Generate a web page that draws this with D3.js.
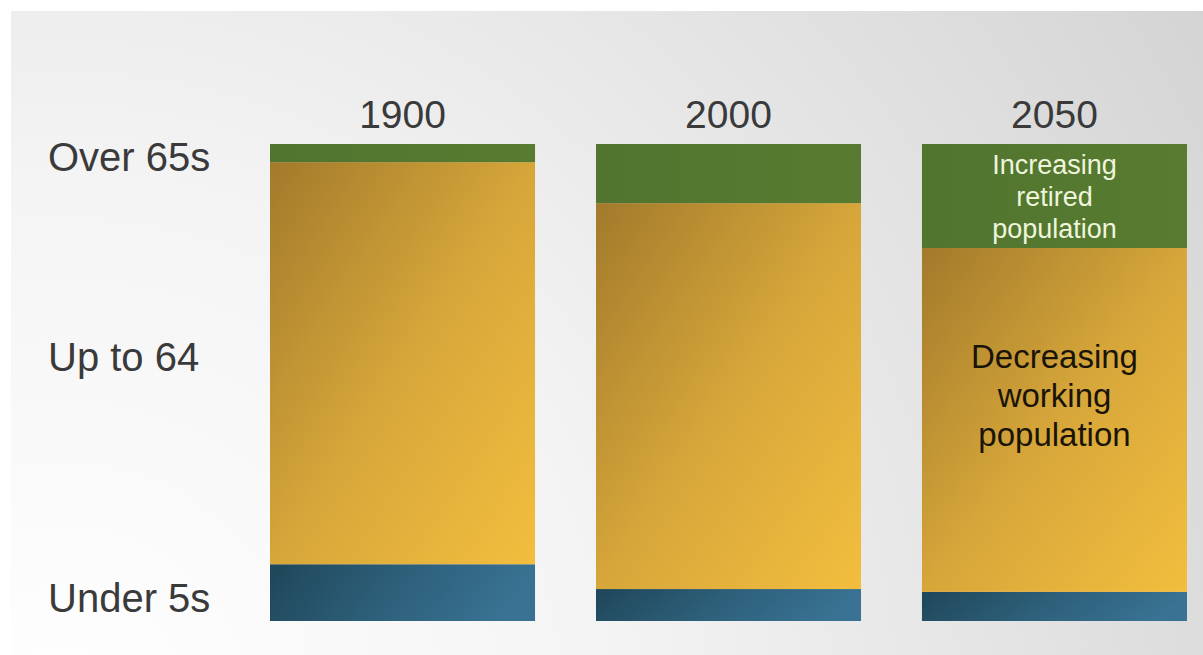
<!DOCTYPE html>
<html>
<head>
<meta charset="utf-8">
<script src="https://cdn.jsdelivr.net/npm/d3@7"></script>
<style>
  body { margin: 0; background: #fff; }
  svg { display: block; font-family: "Liberation Sans", Arial, sans-serif; }
</style>
</head>
<body>
<div id="chart"></div>
<script>
// data (percent of population)
var years = ["1900", "2000", "2050"];
var groups = ["Under 5s", "Up to 64", "Over 65s"];
var under5 = [11.9, 6.7, 6.1];
var working = [84.3, 80.9, 72.1];
var over65 = [3.8, 12.4, 21.8];
var notes = [
  { year: "2050", group: "Over 65s", lines: ["Increasing", "retired", "population"] },
  { year: "2050", group: "Up to 64", lines: ["Decreasing", "working", "population"] }
];

var svgWidth = 1203;
var svgHeight = 655;

var svg = d3.select("#chart")
  .append("svg")
  .attr("width", svgWidth)
  .attr("height", svgHeight);

var defs = svg.append("defs");

// background gradient, light at bottom left, grey at top right
var bg = defs.append("radialGradient")
  .attr("id", "bg")
  .attr("gradientUnits", "userSpaceOnUse")
  .attr("cx", 60).attr("cy", 720).attr("r", 1350);
bg.append("stop").attr("offset", "0").attr("stop-color", "#ffffff");
bg.append("stop").attr("offset", "0.4").attr("stop-color", "#f4f4f4");
bg.append("stop").attr("offset", "1").attr("stop-color", "#d4d4d4");

svg.append("rect")
  .attr("x", 11).attr("y", 11)
  .attr("width", svgWidth - 11).attr("height", svgHeight - 11)
  .attr("fill", "url(#bg)");

function barGradient(id, c0, c1, c2, x2, y2) {
  var g = defs.append("linearGradient")
    .attr("id", id)
    .attr("x1", 0).attr("y1", 0).attr("x2", x2).attr("y2", y2);
  g.append("stop").attr("offset", "0").attr("stop-color", c0);
  g.append("stop").attr("offset", "0.5").attr("stop-color", c1);
  g.append("stop").attr("offset", "1").attr("stop-color", c2);
}
barGradient("g-under", "#1f4659", "#2d5f79", "#397293", 1, 0.15);
barGradient("g-work", "#a27a2b", "#d6a63a", "#f3be3e", 1, 1);
barGradient("g-over", "#517530", "#54782f", "#587b31", 1, 0);
var fills = { "Under 5s": "url(#g-under)", "Up to 64": "url(#g-work)", "Over 65s": "url(#g-over)" };

var x = d3.scaleBand()
  .domain(years)
  .range([270, 1187])
  .paddingInner(0.187)
  .paddingOuter(0);

var y = d3.scaleLinear()
  .domain([0, 100])
  .range([621, 144]);

var table = years.map(function(yr, i) {
  return { year: yr, "Under 5s": under5[i], "Up to 64": working[i], "Over 65s": over65[i] };
});

var stack = d3.stack().keys(groups);
var layers = stack(table);

var layerG = svg.selectAll("g.layer")
  .data(layers)
  .enter()
  .append("g")
  .attr("class", "layer");

layerG.selectAll("rect")
  .data(function(d) { return d.map(function(s) { return { key: d.key, s: s }; }); })
  .enter()
  .append("rect")
  .attr("x", d => x(d.s.data.year))
  .attr("y", d => y(d.s[1]))
  .attr("width", x.bandwidth())
  .attr("height", d => y(d.s[0]) - y(d.s[1]))
  .attr("fill", d => fills[d.key]);

// year labels
svg.selectAll("text.year")
  .data(years)
  .enter()
  .append("text")
  .attr("class", "year")
  .attr("x", d => x(d) + x.bandwidth() / 2)
  .attr("y", 128)
  .attr("text-anchor", "middle")
  .attr("font-size", "39px")
  .attr("fill", "#3a3a3a")
  .text(d => d);

// row labels, roughly level with the 1900 segments
var labelNudge = [3, -8, 2];
svg.selectAll("text.group")
  .data(layers)
  .enter()
  .append("text")
  .attr("class", "group")
  .attr("x", 48)
  .attr("y", (d, i) => (y(d[0][0]) + y(d[0][1])) / 2 + 16 + labelNudge[i])
  .attr("font-size", "40px")
  .attr("fill", "#3a3a3a")
  .text(d => d.key);

// notes inside the 2050 bar
var overLayer = layers[2], workLayer = layers[1];
var i50 = years.indexOf("2050");
var overMid = (y(overLayer[i50][0]) + y(overLayer[i50][1])) / 2;
var workMid = (y(workLayer[i50][0]) + y(workLayer[i50][1])) / 2;

svg.append("text")
  .attr("text-anchor", "middle")
  .attr("font-size", "27px")
  .attr("fill", "#eef5dc")
  .selectAll("tspan")
  .data(notes[0].lines)
  .enter()
  .append("tspan")
  .attr("x", x("2050") + x.bandwidth() / 2)
  .attr("y", (d, i) => overMid + 10 + (i - 1) * 32)
  .text(d => d);

svg.append("text")
  .attr("text-anchor", "middle")
  .attr("font-size", "33px")
  .attr("fill", "#1a1408")
  .selectAll("tspan")
  .data(notes[1].lines)
  .enter()
  .append("tspan")
  .attr("x", x("2050") + x.bandwidth() / 2)
  .attr("y", (d, i) => workMid - 13 + (i - 1) * 39)
  .text(d => d);
</script>
</body>
</html>
